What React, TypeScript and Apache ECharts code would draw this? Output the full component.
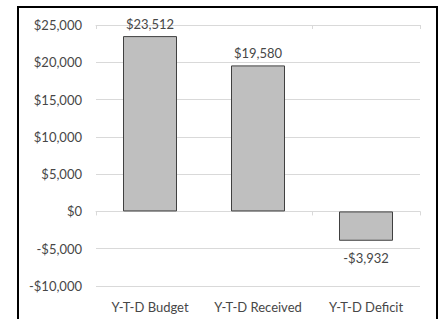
import React, { useEffect, useRef } from "react";
import * as echarts from "echarts";

const categories = ["Y-T-D Budget", "Y-T-D Received", "Y-T-D Deficit"];
const values = [23512, 19580, -3932];
const yMin = -10000;
const yMax = 25000;
const yStep = 5000;

const fmt = (v: number) => (v < 0 ? "-$" : "$") + Math.abs(v).toLocaleString("en-US");

export default function App() {
  const ref = useRef<HTMLDivElement>(null);
  useEffect(() => {
    document.body.style.margin = "0";
    const chart = echarts.init(ref.current!, null, { renderer: "svg" });
    const font = "Lato, Liberation Sans, Arial, sans-serif";
    const textColor = "#474747";
    chart.setOption({
      animation: false,
      backgroundColor: "#ffffff",
      grid: { left: 96, right: 23, top: 25, bottom: 33 },
      graphic: [
        {
          type: "rect",
          shape: { x: 18, y: 7, width: 419, height: 330 },
          style: { fill: "none", stroke: "#000000", lineWidth: 2 },
          silent: true,
        },
      ],
      xAxis: [
        {
          type: "category",
          data: categories,
          axisLine: { onZero: true, lineStyle: { color: "#d9d9d9", width: 1 } },
          axisTick: { show: true, length: 4, lineStyle: { color: "#d9d9d9" } },
          axisLabel: { show: false },
        },
        {
          type: "category",
          data: categories,
          position: "bottom",
          axisLine: { show: false },
          axisTick: { show: false },
          axisLabel: {
            interval: 0,
            color: textColor,
            fontSize: 13,
            fontFamily: font,
            margin: 14,
          },
        },
        {
          type: "category",
          data: categories,
          axisLine: { onZero: true, show: true, lineStyle: { color: "#d9d9d9" } },
          axisTick: { show: true, inside: true, length: 4, lineStyle: { color: "#d9d9d9" } },
          axisLabel: { show: false },
        },
      ],
      yAxis: {
        type: "value",
        min: yMin,
        max: yMax,
        interval: yStep,
        axisLine: { show: false },
        axisTick: { show: false },
        splitLine: { lineStyle: { color: "#d9d9d9", width: 1 } },
        axisLabel: {
          color: textColor,
          fontSize: 13,
          fontFamily: font,
          margin: 14,
          formatter: (v: number) => fmt(v),
        },
      },
      series: [
        {
          type: "bar",
          xAxisIndex: 0,
          barWidth: "50%",
          data: values.map((v) => ({
            value: v,
            label: { position: v < 0 ? "bottom" : "top", distance: v < 0 ? 11 : 6 },
          })),
          itemStyle: { color: "#bfbfbf", borderColor: "#404040", borderWidth: 1 },
          label: {
            show: true,
            color: textColor,
            fontSize: 13,
            fontFamily: font,
            formatter: (p: any) => fmt(p.value),
          },
        },
      ],
    });
    return () => chart.dispose();
  }, []);
  return <div ref={ref} style={{ width: 443, height: 319 }} />;
}
